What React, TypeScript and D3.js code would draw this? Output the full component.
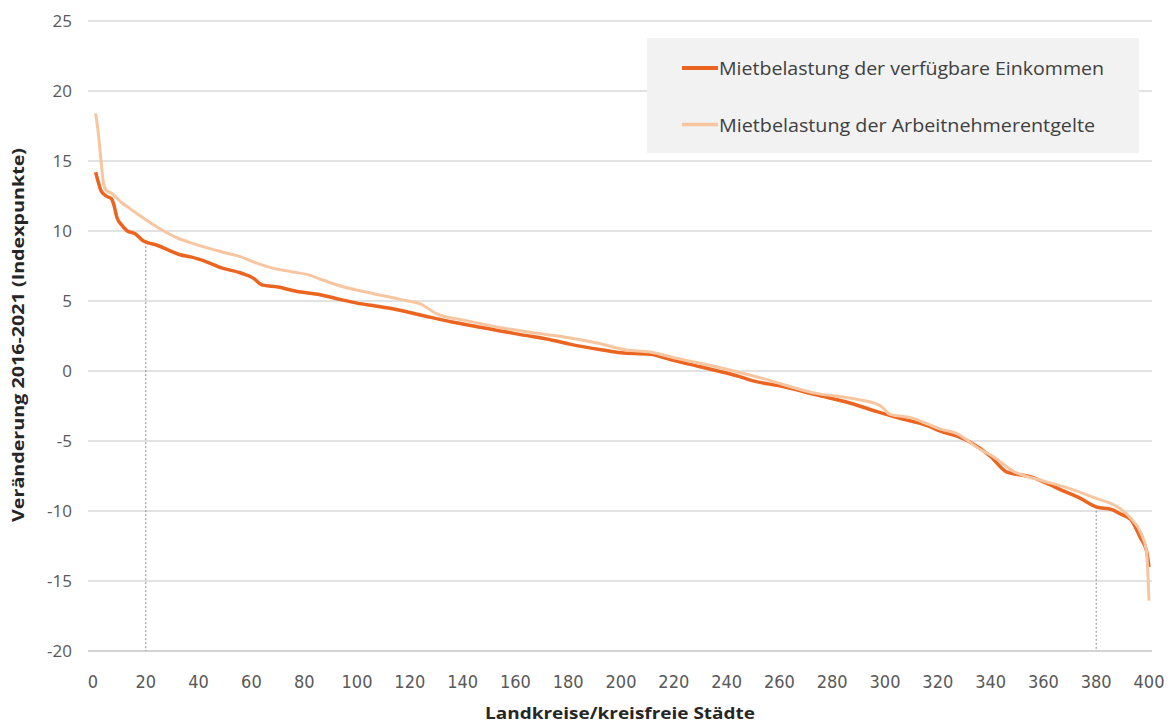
import React from "react";
import * as d3 from "d3";

// Rank (Landkreise/kreisfreie Städte) and change values
const rankEinkommen = [1, 2, 3, 5, 7, 8, 9, 11, 13, 16, 19, 21, 24, 29, 33, 37, 43, 49, 56, 61, 64, 70, 77, 86, 94, 100, 107, 112, 124, 136, 149, 162, 174, 181, 193, 200, 211, 219, 230, 245, 249, 261, 274, 287, 297, 306, 316, 321, 328, 332, 340, 346, 355, 361, 368, 374, 380, 386, 389, 393, 397, 399, 400];
const valEinkommen = [14.2, 13.5, 12.9, 12.5, 12.3, 11.8, 11.0, 10.4, 10.0, 9.8, 9.3, 9.15, 9.0, 8.6, 8.3, 8.15, 7.8, 7.35, 7.0, 6.6, 6.15, 6.0, 5.7, 5.45, 5.1, 4.85, 4.65, 4.5, 4.0, 3.5, 3.05, 2.6, 2.2, 1.9, 1.5, 1.3, 1.2, 0.8, 0.3, -0.4, -0.65, -1.1, -1.7, -2.3, -2.9, -3.4, -3.9, -4.3, -4.7, -5.05, -6.1, -7.2, -7.55, -8.0, -8.6, -9.1, -9.7, -9.9, -10.2, -10.6, -12.0, -12.8, -14.0];

const rankEntgelte = [1, 2, 3, 4, 5, 7, 11, 14, 17, 20, 25, 32, 38, 46, 49, 56, 62, 68, 75, 82, 87, 95, 102, 108, 112, 118, 124, 130, 140, 153, 166, 178, 191, 202, 211, 220, 236, 253, 274, 287, 298, 302, 310, 317, 321, 327, 336, 340, 349, 359, 370, 380, 388, 393, 397, 399, 400];
const valEntgelte = [18.4, 17.0, 15.1, 13.4, 12.9, 12.7, 12.0, 11.6, 11.2, 10.8, 10.2, 9.5, 9.1, 8.65, 8.5, 8.15, 7.7, 7.35, 7.1, 6.85, 6.5, 6.0, 5.7, 5.45, 5.3, 5.05, 4.8, 4.1, 3.65, 3.15, 2.75, 2.45, 2.0, 1.5, 1.35, 0.95, 0.3, -0.5, -1.6, -1.95, -2.45, -3.1, -3.35, -3.85, -4.15, -4.45, -5.6, -6.0, -7.2, -7.8, -8.4, -9.1, -9.7, -10.5, -11.6, -12.8, -16.4];

const xTicks = [0, 20, 40, 60, 80, 100, 120, 140, 160, 180, 200, 220, 240, 260, 280, 300, 320, 340, 360, 380, 400];
const yTicks = [-20, -15, -10, -5, 0, 5, 10, 15, 20, 25];

const markerRanks = [20, 380];
const markerValues = [9.2, -9.7];

const seriesNames = [
  "Mietbelastung der verfügbare Einkommen",
  "Mietbelastung der Arbeitnehmerentgelte",
];
const seriesColors = ["#EB6420", "#F7C6A0"];

const yTitle = "Veränderung 2016-2021 (Indexpunkte)";
const xTitle = "Landkreise/kreisfreie Städte";

export default function App() {
  const W = 1176;
  const H = 725;
  const x = d3.scaleLinear().domain([0, 400]).range([93, 1149]);
  const y = d3.scaleLinear().domain([-20, 25]).range([651, 21]);

  const line = d3
    .line<[number, number]>()
    .x((d) => x(d[0]))
    .y((d) => y(d[1]))
    .curve(d3.curveMonotoneX);

  const pathEink = line(rankEinkommen.map((r, i) => [r, valEinkommen[i]]));
  const pathEntg = line(rankEntgelte.map((r, i) => [r, valEntgelte[i]]));

  const font = "'Open Sans', 'Liberation Sans', sans-serif";

  return (
    <svg
      width={W}
      height={H}
      style={{ position: "absolute", left: 0, top: 0, background: "#fff" }}
    >
      {/* gridlines */}
      {yTicks.map((t) => (
        <line
          key={"g" + t}
          x1={88}
          x2={1152}
          y1={y(t)}
          y2={y(t)}
          stroke={t === -20 ? "#c4c4c4" : "#d9d9d9"}
          strokeWidth={1.6}
        />
      ))}
      {/* y tick labels */}
      {yTicks.map((t) => (
        <text
          key={"yl" + t}
          x={72}
          y={y(t) + 6}
          textAnchor="end"
          fontFamily={font}
          fontSize={17}
          fill="#595959"
        >
          {t}
        </text>
      ))}
      {/* x tick labels */}
      {xTicks.map((t) => (
        <text
          key={"xl" + t}
          x={x(t)}
          y={688}
          textAnchor="middle"
          fontFamily="'DejaVu Sans Condensed', 'Liberation Sans Narrow', sans-serif"
          fontStretch="condensed"
          fontSize={18}
          fill="#595959"
        >
          {t}
        </text>
      ))}
      {/* dotted marker lines */}
      {markerRanks.map((r, i) => (
        <line
          key={"m" + r}
          x1={x(r)}
          x2={x(r)}
          y1={y(markerValues[i])}
          y2={y(-20)}
          stroke="#8c8c8c"
          strokeWidth={1}
          strokeDasharray="2,2"
        />
      ))}
      {/* series */}
      <path d={pathEink || ""} fill="none" stroke={seriesColors[0]} strokeWidth={3.5} strokeLinejoin="round" />
      <path d={pathEntg || ""} fill="none" stroke={seriesColors[1]} strokeWidth={3} strokeLinejoin="round" />
      {/* legend */}
      <rect x={647} y={38} width={492} height={115} fill="#f2f2f2" />
      {seriesNames.map((n, i) => (
        <g key={n}>
          <line
            x1={682}
            x2={718}
            y1={68 + i * 56.5}
            y2={68 + i * 56.5}
            stroke={seriesColors[i]}
            strokeWidth={i === 0 ? 4 : 3.5}
          />
          <text
            x={719}
            y={75 + i * 56.5}
            fontFamily={font}
            fontSize={19}
            fill="#404040"
            textLength={i === 0 ? 385 : 376}
            lengthAdjust="spacingAndGlyphs"
          >
            {n}
          </text>
        </g>
      ))}
      {/* axis titles */}
      <text
        transform={`translate(24, 335) rotate(-90)`}
        textAnchor="middle"
        fontFamily={font}
        fontWeight="bold"
        fontSize={16}
        fill="#262626"
        textLength={374}
        lengthAdjust="spacingAndGlyphs"
      >
        {yTitle}
      </text>
      <text
        x={620}
        y={719}
        textAnchor="middle"
        fontFamily={font}
        fontWeight="bold"
        fontSize={16}
        fill="#262626"
        textLength={270}
        lengthAdjust="spacingAndGlyphs"
      >
        {xTitle}
      </text>
    </svg>
  );
}
